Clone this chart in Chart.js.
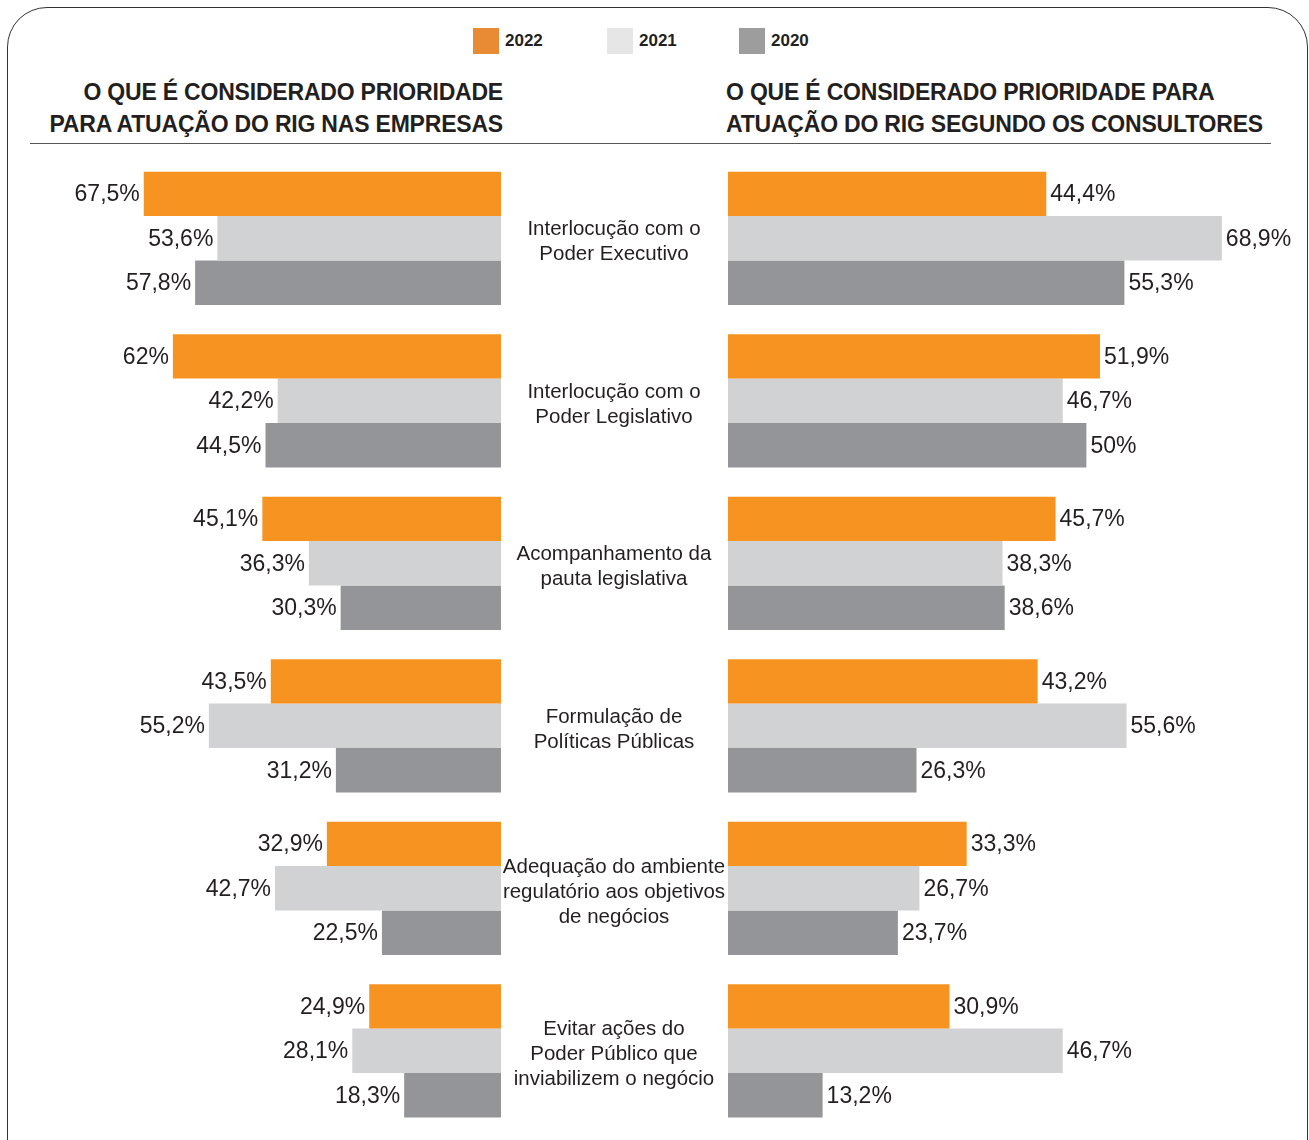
<!DOCTYPE html>
<html lang="pt">
<head>
<meta charset="UTF-8">
<title>Prioridades de atuação do RIG</title>
<script src="https://cdn.jsdelivr.net/npm/chart.js"></script>
<style>
  body { margin: 0; background: #fff; font-family: "Liberation Sans", Arial, sans-serif; color: #231f20; }
  #page { position: relative; width: 1309px; height: 1140px; overflow: hidden; }
  #frame { position: absolute; left: 7px; top: 7px; width: 1299px; height: 1180px; border: 1.5px solid #333; border-radius: 40px; }
  .title { position: absolute; top: 76px; font-weight: bold; font-size: 23px; line-height: 32px; letter-spacing: -0.2px; }
  #rule { position: absolute; left: 30px; top: 143px; width: 1241px; height: 0; border-top: 1.3px solid #555; }
  .legend-item { position: absolute; top: 28px; height: 26px; display: flex; align-items: center; font-weight: bold; font-size: 17px; }
  .legend-item span.box { display: inline-block; width: 26px; height: 26px; margin-right: 6px; }
  .cat { position: absolute; width: 240px; text-align: center; font-size: 20.5px; line-height: 25px; }
  canvas { position: absolute; }
</style>
</head>
<body>
<div id="page">
  <div id="frame"></div>
  <div id="legend"></div>
  <div class="title" style="right: 806px; text-align: right;">O QUE É CONSIDERADO PRIORIDADE<br>PARA ATUAÇÃO DO RIG NAS EMPRESAS</div>
  <div class="title" style="left: 726px;">O QUE É CONSIDERADO PRIORIDADE PARA<br>ATUAÇÃO DO RIG SEGUNDO OS CONSULTORES</div>
  <div id="rule"></div>
  <canvas id="leftChart" width="471" height="975" style="left:30px; top:157px;"></canvas>
  <canvas id="rightChart" width="572" height="975" style="left:728px; top:157px;"></canvas>
  <div id="cats"></div>
</div>

<script>
// categorias (com quebras de linha)
const categories = [
  ['Interlocução com o', 'Poder Executivo'],
  ['Interlocução com o', 'Poder Legislativo'],
  ['Acompanhamento da', 'pauta legislativa'],
  ['Formulação de', 'Políticas Públicas'],
  ['Adequação do ambiente', 'regulatório aos objetivos', 'de negócios'],
  ['Evitar ações do', 'Poder Público que', 'inviabilizem o negócio']
];
const years = ['2022', '2021', '2020'];

// empresas
const empresas2022 = [67.5, 62, 45.1, 43.5, 32.9, 24.9];
const empresas2021 = [53.6, 42.2, 36.3, 55.2, 42.7, 28.1];
const empresas2020 = [57.8, 44.5, 30.3, 31.2, 22.5, 18.3];

// consultores
const consultores2022 = [44.4, 51.9, 45.7, 43.2, 33.3, 30.9];
const consultores2021 = [68.9, 46.7, 38.3, 55.6, 26.7, 46.7];
const consultores2020 = [55.3, 50, 38.6, 26.3, 23.7, 13.2];

const barColors = ['#f79421', '#d1d2d4', '#939598'];
const legendColors = ['#e98b35', '#e6e6e6', '#9d9d9d'];

// legenda
const legendX = [473, 607, 739];
const legendDiv = document.getElementById('legend');
years.forEach((y, i) => {
  const el = document.createElement('div');
  el.className = 'legend-item';
  el.style.left = legendX[i] + 'px';
  el.innerHTML = '<span class="box" style="background:' + legendColors[i] + '"></span>' + y;
  legendDiv.appendChild(el);
});

function fmt(v) {
  return String(v).replace('.', ',') + '%';
}

// rótulos de valor na ponta das barras
const valueLabels = {
  id: 'valueLabels',
  afterDatasetsDraw(chart, args, opts) {
    const ctx = chart.ctx;
    ctx.save();
    ctx.font = '23px "Liberation Sans", Arial, sans-serif';
    ctx.fillStyle = '#231f20';
    ctx.textBaseline = 'middle';
    ctx.textAlign = opts.side === 'left' ? 'right' : 'left';
    chart.data.datasets.forEach((ds, di) => {
      chart.getDatasetMeta(di).data.forEach((bar, i) => {
        const x = opts.side === 'left' ? bar.x - 4 : bar.x + 4;
        ctx.fillText(fmt(ds.data[i]), x, bar.y + 1);
      });
    });
    ctx.restore();
  }
};

function makeChart(id, series, max, reverse, side) {
  return new Chart(document.getElementById(id), {
    type: 'bar',
    data: {
      labels: categories.map(c => c.join(' ')),
      datasets: series.map((d, i) => ({
        label: years[i],
        data: d,
        backgroundColor: barColors[i],
        borderWidth: 0,
        categoryPercentage: 0.82,
        barPercentage: 1.0
      }))
    },
    options: {
      indexAxis: 'y',
      responsive: false,
      animation: false,
      layout: { padding: 0 },
      plugins: {
        legend: { display: false },
        tooltip: { enabled: false },
        valueLabels: { side: side }
      },
      scales: {
        x: { display: false, min: 0, max: max, reverse: reverse },
        y: { display: false }
      }
    },
    plugins: [valueLabels]
  });
}

const leftChart = makeChart('leftChart', [empresas2022, empresas2021, empresas2020], 89, true, 'left');
const rightChart = makeChart('rightChart', [consultores2022, consultores2021, consultores2020], 79.8, false, 'right');

// categorias no meio
const catsDiv = document.getElementById('cats');
categories.forEach((lines, i) => {
  const el = document.createElement('div');
  el.className = 'cat';
  el.innerHTML = lines.join('<br>');
  const cy = 157 + leftChart.scales.y.getPixelForValue(i) + 2;
  el.style.left = (614 - 120) + 'px';
  el.style.top = (cy - lines.length * 25 / 2) + 'px';
  catsDiv.appendChild(el);
});
</script>
</body>
</html>
